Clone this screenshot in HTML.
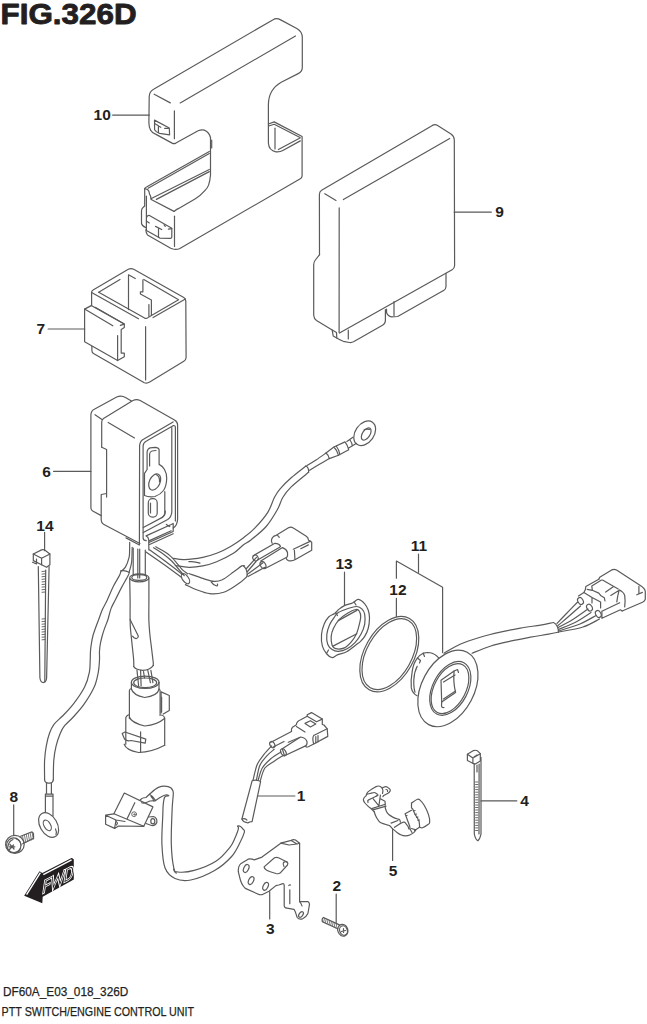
<!DOCTYPE html>
<html><head><meta charset="utf-8"><style>
html,body{margin:0;padding:0;background:#fff;}
body{width:647px;height:1024px;overflow:hidden;position:relative;font-family:"Liberation Sans",sans-serif;}
svg{position:absolute;left:0;top:0;}
.t{position:absolute;color:#231f20;white-space:nowrap;}
.n{font-weight:bold;font-size:14px;position:absolute;color:#231f20;line-height:1;}
</style></head><body>
<svg width="647" height="1024" viewBox="0 0 647 1024" fill="none" stroke="#5a5a5a" stroke-width="1.2" stroke-linecap="round" stroke-linejoin="round">
<!-- PART10 -->
<g id="p10">
<path d="M150.5,130 Q149,127 148.9,123 L149.2,97 Q149.3,91.5 153.6,89.3 L272.7,19.9 Q276.4,17.6 280.2,19.6 L296.8,28.5 Q302.3,31.6 302.3,37.5 L302.3,67.5 Q302.2,71.8 298.2,73.6 L281.2,82.3 Q268.6,89.5 268.4,104.5 L268.4,143 Q268.8,150.5 276,151.8 Q280,152.2 283.3,150.2 L300.3,140.9"/>
<path d="M150.5,130 Q152,133 156,134.4 L172.1,143.1 Q174,144 175.9,143.1 L198.1,130.7 Q201,129.6 204.3,130.1 Q208.8,131.8 210.5,137.5 L210.5,175 Q209.5,187 205.1,190.3 Q200,196 195.4,198.7 L178.7,208.4 Q176.5,209.6 174,211.4"/>
<path d="M211.7,140 L211.7,148"/>
<path d="M154.2,94.2 L170.3,102.9"/>
<path d="M180.2,102.9 L295.5,36"/>
<path d="M174.4,110.9 L174.4,138.7"/>
<path d="M154.5,120.1 L169.3,128 L169.6,134.9 L159.6,133.3 Q156,132.3 154.6,129.8 Z"/>
<path d="M155,123.8 L158.4,125.7 L158.4,132.6 M158.4,126 L160.8,127.3 M164.7,128.4 L168.4,128.4"/>
<path d="M268.4,124 L274.2,121.9 L302.1,136.5 L302.1,175.7 Q302,178 300.3,178.8 L179.4,248.7 Q176.1,250 173,249 L170.7,248.2 L147.5,235 Q146,233 145.8,229.8"/>
<path d="M268.7,126 L274.2,124.3 L300,137.5"/>
<path d="M275,128.2 L275,149"/>
<path d="M300,138 L278.4,149.5"/>
<path d="M144.7,188.7 L144.7,206 L143,207.5 Q141.5,208.7 141.5,211 L141.5,223.3 Q142,226 145.8,227.6"/>
<path d="M146.4,196.2 L146.4,229.8"/>
<path d="M144.7,188.7 Q145,187.6 146.5,187 L209.3,151.4"/>
<path d="M144.7,188.7 L147.5,189.5 Q149.5,191 149.5,194 L150.5,196 L151.2,199"/>
<path d="M148.1,188.3 L209.3,153.5"/>
<path d="M151.2,199.5 L174,211.4"/>
<path d="M150.9,198.7 L209.3,169.5"/>
<path d="M156.4,199.4 L209.3,171.6"/>
<path d="M174.5,216.2 L174.5,246.5"/>
<path d="M146.5,217.5 Q147,215.2 149,215.3 L171.8,228.2 L171.8,237.2 Q171.5,238.5 170.3,238.4 L159.8,238.1 L158.5,237.2 L146.5,230.4"/>
<path d="M158.5,228.5 L158.5,237.2 M155.5,226.4 L161.7,229.5 M146.3,221.1 L149.3,222.9 M168.4,229.2 L171.8,228.6 M164.1,224.8 L165.3,226.3"/>
</g>
<!-- PART9 -->
<g id="p9">
<path d="M319.5,254.7 L319.4,194.5 Q319.4,191.6 321.6,190.3 L432.4,125.4 Q435,124 437.6,125.5 L451,134 Q454.2,136.2 454.3,140 L454.6,265.5 Q454.5,268.6 452.1,269.8 L339.5,333"/>
<path d="M319.6,254.7 L315,260.5 Q313.7,262.2 313.7,265 L313.7,315.3 Q314,319 316.5,320.6 L332.2,330.1 L333.2,336 L338.5,339 Q341,340.5 343.3,341.3 L349.5,342.5 Q351.5,342.8 353.5,341.8 L382.5,325.3 Q385.4,323.5 385.4,320.5 L385.4,309.5"/>
<path d="M332.2,330.1 L336.5,332.5 L336.8,338"/>
<path d="M348.3,330 L348.3,339"/>
<path d="M386.5,309 L386.6,312.8 Q388,316.5 391.5,316.8 L397.7,316.5 L443.5,290.6 Q446,289.3 446,286.5 L446,273.3"/>
<path d="M394,301.7 L394,315.5"/>
<path d="M324.8,193.7 L336,200.4"/>
<path d="M343.4,199.6 L449.7,138.5"/>
<path d="M339.2,207.8 L339.1,332.6"/>
</g>
<!-- PART7 -->
<g id="p7">
<path d="M91.6,346 L91.6,292 Q91.8,290.8 93.5,289.8 L128.3,269.3 Q131,267.8 133.7,269.2 L183.8,297.6 Q185.6,298.8 185.8,301 L186.1,357.5 Q186,360 183.8,361.3 L149.7,382.1 Q147,383.8 144.3,382.7 L93.5,353.5 Q91.9,352.5 91.9,350.5 L91.9,346"/>
<path d="M91.6,292.5 L138.5,318.8"/>
<path d="M98.7,292.3 L120,279.5"/>
<path d="M98.7,292.3 L144.6,318.1 Q146.5,318.8 148,317.6 L178.6,299.8 L143.8,279.5"/>
<path d="M153.1,317.6 L185.4,299"/>
<path d="M145.6,326.7 L145.6,380"/>
<path d="M128.5,274.8 L128.5,309.6 M128.5,274.8 L135.3,278.5"/>
<path d="M142.9,279.9 L142.9,291.8 L140.4,291.8 L140.4,294 L151.4,300 L151.4,314.7 M148.9,304.5 L148.9,316"/>
<path fill="#fff" d="M84.6,309.1 L91.2,305.6 L124.3,324.1 L124.3,327.6 L121.2,329.4 L121.2,353.1 L124.3,353.1 L124.3,356.7 L117.6,360.6 L84.6,341.7 Z"/>
<path d="M84.6,309.1 L112.8,325.8 M95.2,307.3 L124.3,324.1 M120.3,325.4 L124.3,324.1 M117.6,335.5 L117.6,360.6"/>
</g>
<!-- PART6 -->
<g id="p6">
<path d="M101.2,515.6 L92.7,511 Q90.9,510 90.9,507.5 L90.9,415 Q91,410.8 94.3,409.3 L116.7,397 Q121.2,394.8 125.5,397.6 L131.4,401.1"/>
<path d="M95,414.7 L102,419.4"/>
<path d="M101.7,447.2 L101.7,422 Q101.9,419.5 103.5,418.4 L132.9,400.5 Q136.6,398.6 140.2,400.6 L174.5,420 Q177.6,421.8 177.6,425 L177.6,519 Q177.3,524.5 174.5,527 L173.2,528"/>
<path d="M101.7,447.2 L106.6,449.5 L106.6,497.1 M106.6,493.5 L101.2,494.5 L101.2,520 Q101.4,523.3 103.5,524.3 L139.9,543.5"/>
<path d="M108.2,422.5 L134.5,437.9"/>
<path d="M126,537.9 L139.4,545"/>
<path d="M139.4,544.5 L139.6,445.4 Q140.2,440.6 143.9,439 L173.1,421.9"/>
<path d="M146.3,540.7 Q143.3,540.6 143.1,538 L143.1,446 Q143.3,442.4 146.5,441 L173.1,425.7 Q175.3,425.2 175.4,427.5 L175.4,521"/>
<path d="M171.8,427.6 L171.8,512 Q171.5,517 167.7,519.5 L143.3,532.5 M143.3,527.5 L162.8,517.1 Q165.5,515 165.3,511"/>
<path d="M147.1,469.5 L147.1,451.7 Q147.8,448.5 150.2,447.9 L155.3,447.3 Q158.3,447.3 159.1,449.5 L159.1,464.4 Q162.5,466 164.5,469.5 Q167,474 166.7,478.4 Q166.5,486 163.5,490.5 Q160.5,494.5 155,496.5 Q149,497.5 144.5,495.5 L144.5,473.3 L147.1,469.5"/>
<path d="M149.6,466 L149.6,454 Q150,451.5 152,451 L156,450.5"/>
<ellipse cx="154.7" cy="482" rx="5.3" ry="8.6" transform="rotate(25 154.7 482)"/>
<path d="M156,474.5 Q160,476 159.5,482" />
<rect x="148.3" y="498.7" width="8.9" height="18.4" rx="4"/>
<path d="M150.5,503 L150.5,513"/>
<path d="M164.8,491.7 L164.8,513.9 Q164.5,516 162,517.5"/>
<path d="M146.1,535.9 L171.2,524.5 L173.2,523.5 L173.2,531.5 L149.5,542.3 M148.9,540.9 L171.2,530.8 M149.6,544.5 L173.2,533.8 M146.1,535.9 Q148.5,537 148.7,540 L148.9,550 M166.3,524.4 L169.8,526.5"/>
</g>
<!-- HARNESS -->
<g id="harn"><path d="M173.4,558.4 C175.2,558.6 179.6,559.8 184.5,559.6 C189.4,559.4 197.4,558.3 202.8,557.3 C208.2,556.2 212.1,555.1 216.7,553.3 C221.3,551.5 226.1,549.0 230.6,546.4 C235.1,543.8 239.8,540.5 243.9,537.4 C248.0,534.3 251.1,532.0 255.0,527.9 C258.9,523.8 264.4,517.7 267.6,512.6 C270.9,507.5 272.4,501.2 274.5,497.3 C276.6,493.4 277.3,492.1 280.1,488.9 C282.9,485.6 286.9,481.6 291.2,477.8 C295.5,474.0 303.4,468.0 305.8,466.0"/>
<path d="M175.2,565.5 C177.5,565.8 184.3,567.2 188.9,567.3 C193.5,567.4 198.2,566.8 202.8,565.9 C207.4,565.0 211.6,563.8 216.7,561.7 C221.8,559.6 229.0,556.1 233.4,553.3 C237.8,550.5 240.3,547.2 243.2,545.0 C246.1,542.8 247.1,543.1 250.9,540.0 C254.7,536.9 261.8,531.5 266.2,526.5 C270.6,521.5 274.5,514.7 277.3,509.8 C280.1,504.9 280.6,501.1 282.9,497.3 C285.2,493.5 286.9,491.1 291.2,486.9 C295.5,482.7 305.7,474.7 308.6,472.3"/>
<path d="M305.8,466 Q309,467.5 308.6,472.3"/>
<path d="M188.9,561.7 Q194,561 200,563.1"/>
<path d="M307.0,465.6 C308.5,464.7 312.8,462.1 316.0,460.0 C319.2,457.9 324.3,454.2 326.0,453.0"/>
<path d="M309.5,470.3 C311.1,469.3 315.7,466.4 319.0,464.5 C322.3,462.6 327.6,459.6 329.3,458.6"/>
<path d="M326,453 L333.9,447 L345,441.9 M329.3,458.6 L338.5,455.3 L348.7,449.8 M326,453 Q328.5,455 329.3,458.6 M333.9,447 Q337,450 338.5,455.3 M336.2,446 Q339,449.5 339.9,454.6 M345,441.9 Q347.5,445 348.7,449.8 M346.9,441.6 L352.9,437.3 M348.7,447.9 L356.6,443.3 M350,440 Q352,442.5 352.3,446"/>
<ellipse cx="364.7" cy="433.3" rx="9.4" ry="13.5" transform="rotate(35 364.7 433.3)"/>
<ellipse cx="366.2" cy="434" rx="3.7" ry="6.8" transform="rotate(34 366.2 434)"/>
<path d="M364,430 Q366,428.5 369.5,429.5"/>
<path d="M146.0,551.9 C149.0,554.0 158.1,560.4 164.0,564.6 C169.9,568.9 178.8,575.3 181.7,577.4"/>
<path d="M149.4,549.8 C152.0,551.7 159.5,556.9 165.0,561.0 C170.5,565.1 179.6,572.2 182.5,574.5"/>
<path d="M153.6,547.7 C154.6,548.3 157.6,550.2 159.6,551.5 C161.6,552.8 163.7,554.3 165.5,555.7 C167.3,557.1 168.9,558.4 170.6,560.0 C172.3,561.6 174.1,563.7 175.7,565.5 C177.3,567.3 178.6,568.9 180.0,570.6 C181.4,572.3 183.5,574.7 184.2,575.5"/>
<path d="M155.7,546.8 C156.8,547.4 160.0,549.0 162.1,550.2 C164.2,551.4 166.3,552.7 168.0,554.0 C169.7,555.3 170.7,556.3 172.3,557.9 C173.9,559.5 175.7,561.8 177.4,563.8 C179.1,565.8 180.8,568.1 182.5,569.8 C184.2,571.5 186.8,573.1 187.6,573.8"/>
<ellipse cx="185.5" cy="578.7" rx="3" ry="5.8" transform="rotate(-35 185.5 578.7)"/>
<path d="M188.9,573.5 C191.2,574.3 198.6,577.1 202.8,578.4 C207.0,579.7 210.8,581.2 214.0,581.4 C217.2,581.6 219.1,581.3 222.3,579.8 C225.5,578.2 230.2,574.4 233.4,572.1 C236.7,569.8 239.9,566.9 241.8,565.9 C243.7,564.9 244.1,565.9 244.6,565.9"/>
<path d="M185.4,584.6 C187.2,585.4 191.8,588.0 195.9,589.5 C200.0,591.0 205.2,593.2 209.8,593.7 C214.4,594.2 219.3,593.7 223.7,592.3 C228.1,590.9 232.5,587.7 236.2,585.3 C239.9,582.9 244.1,579.6 245.9,577.7 C247.8,575.9 247.1,574.8 247.3,574.2"/>
<path d="M243.5,565.9 Q247,568.5 247.3,574.9"/>
<path d="M211.2,581.9 Q213,585 216.7,586 Q218,585.5 217.4,584"/>
<path d="M246.5,568.5 L256.5,557.3 M247.5,571.5 L256,561.5 M248.5,573.5 L263,562.7 M248,576.5 L264.5,567.5"/>
<path d="M272.2,543.3 Q270.5,540 272.7,537.3 Q274,535.8 275.4,535.7 L288.9,527.6 Q291.1,526.6 293.3,528.1 L306.3,536.2 Q308.4,537.5 308.4,540 L311.7,542.2 L311.7,550.3 L295.4,559.5 Q292,561.5 288.4,560.6 Q286.5,559.8 286.2,558.4"/>
<path d="M293.3,549.2 L310.6,541.1 M294.4,550.3 L294.9,559 M300.8,548.7 L308.4,544.9 M277,535.5 Q279,536 279.2,537.3"/>
<path d="M253.2,555.7 L274.9,543.3 Q279.5,543.5 280.5,546.5 L279.2,547.6 M257.6,560 L279.2,547.6"/>
<ellipse cx="255.5" cy="558" rx="2.6" ry="3" transform="rotate(-30 255.5 558)"/>
<path d="M260.8,561.1 L282.5,547.6 Q286.5,549 287.5,552.5 Q288,556 286.8,557.3 L264.6,568.7"/>
<ellipse cx="263" cy="565" rx="2.6" ry="3.6" transform="rotate(-30 263 565)"/>
<path d="M133.2,548 L133.2,575.5 M137.8,549 L137.8,578 M139.7,549 L139.7,578 M145.3,550 L145.3,575.5"/>
<path d="M129.7,542.4 C129.7,543.7 129.7,547.5 129.6,550.0 C129.5,552.5 129.8,554.4 129.1,557.3 C128.4,560.1 126.7,564.8 125.4,567.1 C124.1,569.4 122.2,570.3 121.5,570.9"/>
<path d="M132.2,547.4 C132.1,549.9 132.1,558.1 131.6,562.2 C131.1,566.3 129.5,570.5 129.1,572.1"/>
<path d="M120.9,570.9 Q125,570 129.1,572.3"/>
<ellipse cx="139.3" cy="577.8" rx="9.6" ry="4"/>
<ellipse cx="139.3" cy="577.5" rx="7.5" ry="2.8"/>
<path d="M129.7,578.5 C129.8,582.1 130.0,593.5 130.1,600.0 C130.2,606.5 130.0,612.8 130.1,617.4 C130.2,622.0 130.1,623.8 130.4,627.8 C130.7,631.8 131.3,636.5 131.8,641.7 C132.3,646.9 133.3,655.1 133.6,659.1 C133.9,663.1 133.8,664.9 133.8,666.0"/>
<path d="M148.9,578.0 C148.9,581.7 148.9,592.9 148.9,600.0 C148.9,607.1 148.7,615.1 148.9,620.9 C149.1,626.7 149.5,630.2 149.9,634.8 C150.3,639.4 151.1,644.2 151.6,648.7 C152.1,653.2 152.9,659.2 153.2,662.0 C153.5,664.8 153.2,664.8 153.2,665.3"/>
<path d="M133.5,666.3 Q135,669.6 142.7,670.4 Q150,670 153.4,665.3"/>
<path d="M130.1,619.5 L138.4,636.2 Q137.8,638.8 136,638.6 Q133.8,638.2 132.5,636.2"/>
<path d="M137,670.4 L138.6,685.8 M140.6,670.4 L141.1,685.8 M147.8,670.4 L150.4,682.7 M150.9,670.4 L152.9,682.7 M143.5,671.5 L144.5,678"/>
<ellipse cx="145.2" cy="682.3" rx="13.8" ry="6.2"/>
<ellipse cx="145.2" cy="682.8" rx="11.5" ry="4.8"/>
<path d="M131.4,682.3 L131.4,689.5 M159,682.3 L159,689.5"/>
<path d="M131.4,689 Q133,695 144.7,697.5 Q157,696 159.1,689.5"/>
<path d="M129.4,690.5 L129.4,718.6 M160.1,690.5 L160.1,715.5 M129.4,690.5 Q129.5,689 131.4,688.5 M160.1,690.5 Q159.9,689.5 159,689"/>
<path d="M161.1,691.9 L169.3,695.5 L169.3,710.4 L163.2,714 M161.1,691.9 L161.1,713 M161.6,697 L161.6,712"/>
<path d="M129.4,717 Q131,722.5 144.7,726 Q157,725 164.5,718.5"/>
<path d="M125.8,744.2 L125.8,717.5 Q127,715 129.4,714.5 M164.7,745.2 L164.7,718 Q164,715.5 161.5,715"/>
<path d="M124.2,744.2 Q126,750 138.6,752.5 Q152,752 164.7,745.2"/>
<path d="M140.6,731.9 L140.6,752.5"/>
<path d="M122.2,733.5 L125,732 L145.8,739.1 L145.2,743.2 L131,740.5 Q127,741.5 124.5,739 L122.2,733.5 Z"/>
<path d="M120.9,570.9 C120.7,571.6 120.9,572.5 119.7,575.0 C118.5,577.5 115.5,582.0 113.5,586.1 C111.5,590.2 109.2,595.8 107.4,599.7 C105.6,603.6 103.9,606.2 102.4,609.6 C100.9,613.0 99.7,616.9 98.5,620.0 C97.3,623.1 96.4,625.4 95.5,628.0 C94.6,630.6 93.7,632.9 93.0,635.5 C92.3,638.1 91.8,640.9 91.4,643.5 C91.0,646.1 90.7,648.2 90.5,651.0 C90.3,653.8 90.4,656.5 90.2,660.0 C90.0,663.5 90.3,667.6 89.4,672.1 C88.5,676.6 87.3,681.7 84.6,687.0 C81.9,692.3 77.0,699.3 73.3,704.1 C69.6,708.9 65.8,712.6 62.5,716.0 C59.2,719.4 56.0,721.7 53.8,724.6 C51.6,727.5 50.8,729.7 49.5,733.3 C48.2,736.9 47.0,741.8 46.2,746.3 C45.4,750.8 44.9,754.7 44.6,760.3 C44.3,765.9 44.6,776.5 44.6,779.8"/>
<path d="M129.1,572.3 C129.0,572.8 129.7,572.5 128.4,575.0 C127.2,577.5 123.8,583.3 121.6,587.4 C119.4,591.5 117.2,596.2 115.4,599.7 C113.7,603.2 112.4,605.0 111.1,608.4 C109.8,611.8 108.9,616.7 107.8,620.0 C106.7,623.3 105.6,625.4 104.7,628.0 C103.8,630.6 103.0,632.9 102.3,635.5 C101.6,638.1 100.9,640.9 100.4,643.5 C99.9,646.1 99.7,648.2 99.5,651.0 C99.3,653.8 99.7,656.5 99.5,660.0 C99.3,663.5 99.2,667.6 98.3,672.1 C97.4,676.6 96.6,681.7 94.2,687.0 C91.8,692.3 87.6,699.1 84.1,704.1 C80.6,709.1 76.5,713.4 73.3,717.0 C70.0,720.6 66.8,723.0 64.6,725.7 C62.4,728.4 61.7,729.9 60.3,733.3 C58.9,736.7 57.1,741.8 56.0,746.3 C54.9,750.8 54.2,754.7 53.8,760.3 C53.3,765.9 53.4,776.5 53.3,779.8"/>
<path d="M44.6,779.8 Q44.8,783 48.4,783.2 L50,783.2 Q53,783 53.3,779.8"/>
<path d="M46.5,783.2 L46.5,794.1 M51.4,783.2 L51.4,794.1 M45.4,794.1 L53,794.1 M45.4,796.2 L53,796.2 M45.4,794.1 L45.4,816 M53,794.1 L53,816"/>
<ellipse fill="#fff" cx="48.6" cy="825" rx="8.6" ry="13.4" transform="rotate(-30 48.6 825)"/>
<ellipse cx="47.3" cy="825.4" rx="3.2" ry="5.8" transform="rotate(-30 47.3 825.4)"/>
<path d="M55.5,829 Q57,832 56,834.5"/></g>
<!-- PART14 -->
<g id="p14"><path d="M33.3,554 L41.6,549.9 Q43.5,549.3 45.7,550.7 L49.9,554 L49.9,564.8 L46.6,567.3 L41.6,564.8 L33.3,560.6 Z"/>
<path d="M33.3,554 L41.6,558.2 L49.9,554 M41.6,558.2 L41.6,564.8 M32.5,562.3 L36.5,564 L36.5,559"/>
<path d="M38.3,566.5 L39.9,677.7 Q40.5,682.6 43.3,682.6 Q46.4,682 46.6,677.7 L49.1,566.5"/>
<path d="M45.7,570 L44.8,682"/>
<path stroke-width="0.9" d="M42,571.5 L45.2,571.2 M42,574.1 L45.2,573.8 M42,576.7 L45.2,576.4 M42,579.3 L45.2,579.0 M42,581.9 L45.2,581.6 M42,584.5 L45.2,584.2 M42,587.1 L45.2,586.8 M42,589.7 L45.2,589.4 M42,592.3 L45.2,592.0 M42,619.0 L45.2,618.7 M42,621.6 L45.2,621.3 M42,624.2 L45.2,623.9 M42,626.8 L45.2,626.5 M42,629.4 L45.2,629.1 M42,632.0 L45.2,631.7 M42,634.6 L45.2,634.3 M42,637.2 L45.2,636.9 M42,639.8 L45.2,639.5"/></g>
<!-- PART8 -->
<g id="p8"><ellipse cx="14.9" cy="844.4" rx="9.3" ry="9" />
<ellipse cx="13.8" cy="845.3" rx="7.2" ry="7.4" />
<path d="M8,846 Q9,841 13,839.5 M16,838.8 Q20.5,840.5 21,845 M20.5,848.5 Q19,852 15.5,852.5 M11,852.5 Q7.5,850.5 7.2,847"/>
<path d="M9.5,849.5 L13.5,845 M10,844.5 L14,849 M8.8,846.8 L14.8,846.8"/>
<path d="M20.6,836.3 L31.4,832 Q33.3,832 33.5,834.1 L33.6,838.4 L22.7,843.8"/>
<path stroke-width="0.8" d="M22.5,835.6 L23.8,843.0 M24.4,834.8 L25.7,842.2 M26.3,834.1 L27.6,841.5 M28.2,833.3 L29.5,840.7 M30.1,832.6 L31.4,840.0 M32.0,831.8 L33.3,839.2"/></g>
<!-- FWD -->
<g id="fwd"><path fill="#231f20" stroke="none" d="M24.2,895.8 L39.5,871.2 L42.3,873.1 L71,858.2 Q72.5,857.6 73.8,859.6 L73.8,879.6 L42.7,896.7 L42.3,903.2 Z"/>
<path stroke="#fff" stroke-width="1.4" stroke-linecap="butt" d="M26.6,894.6 L40.4,872.6 M43.3,874.6 L71.6,859.9"/>
<g transform="translate(42.2,894.6) skewY(-27.8) skewX(-9)" stroke-linejoin="miter" stroke-linecap="square"><path stroke="#fff" stroke-width="2.7" d="M1.3,-1.2 L1.3,-12.3 L6.9,-12.3 M1.3,-6.9 L5.9,-6.9 M8.4,-12.3 L10.9,-1.2 L14.3,-10.2 L17.7,-1.2 L20.3,-12.3 M22.5,-1.2 L22.5,-12.3 L25.2,-12.3 Q29.1,-12.3 29.1,-6.75 Q29.1,-1.2 25.2,-1.2 Z"/><path stroke="#231f20" stroke-width="0.9" d="M1.3,-1.2 L1.3,-12.3 L6.9,-12.3 M1.3,-6.9 L5.9,-6.9 M8.4,-12.3 L10.9,-1.2 L14.3,-10.2 L17.7,-1.2 L20.3,-12.3 M22.5,-1.2 L22.5,-12.3 L25.2,-12.3 Q29.1,-12.3 29.1,-6.75 Q29.1,-1.2 25.2,-1.2 Z"/></g></g>
<!-- PART1 -->
<g id="p1"><path d="M124.3,793 L152.9,806.9 L143.8,826.3 L113.9,813.8 Z"/>
<path d="M134.8,802.7 L127.1,818.7"/>
<circle cx="134.1" cy="814.2" r="2.4" stroke-width="0.9"/><circle cx="134.4" cy="814.4" r="0.7" stroke-width="0.8"/>
<path d="M113.9,813.8 L105.6,815.2 L105.6,824.2 L114.6,828.4 L118.5,826 L143.8,826.3 M105.6,815.2 L116,820 L114.6,828.4 M116,820 L125,821.5 M115.5,820.5 L117.5,823 L116.5,825"/>
<path d="M148.5,817 L153.5,816.5 Q157.5,818 156.8,822.5 Q155.5,826 151.5,825.5 L146,823.5"/>
<ellipse cx="152.8" cy="821.3" rx="2" ry="2.6"/>
<path d="M140.3,799.9 Q142,797.5 146,797.5 L149.4,794.3 M141.7,802.7 Q144,804 150,801 L155.6,800.6 M149.4,794.3 Q153,796 155.6,800.6 M151,796.5 Q153.5,798.5 154,801.5"/>
<path d="M155.6,800.6 C156.3,800.1 158.4,798.4 160.0,797.5 C161.6,796.6 163.9,795.3 165.4,795.0 C166.9,794.7 169.0,795.4 168.9,795.7 C168.8,796.1 165.6,795.6 164.7,797.1 C163.8,798.6 163.5,802.0 163.2,805.0 C162.9,808.0 163.0,808.5 162.8,815.0 C162.6,821.5 161.5,835.2 161.9,844.0 C162.3,852.8 162.8,862.0 165.0,867.8 C167.2,873.5 170.7,876.5 175.0,878.5 C179.3,880.5 184.2,881.3 190.8,880.0 C197.4,878.7 207.8,874.4 214.6,870.5 C221.4,866.6 227.4,861.2 231.6,856.5 C235.8,851.8 237.9,846.6 240.0,842.5 C242.1,838.4 243.8,834.2 244.4,832.1 C245.0,830.0 243.7,830.0 243.5,829.6"/>
<path d="M149.4,794.3 C150.9,793.1 155.3,788.7 158.4,787.4 C161.5,786.1 165.8,786.1 168.2,786.7 C170.6,787.3 172.2,789.0 173.0,790.9 C173.8,792.8 173.2,794.6 173.0,797.8 C172.8,801.0 172.4,802.3 172.1,810.0 C171.8,817.7 171.0,834.4 171.3,844.0 C171.6,853.6 172.7,863.1 173.8,867.8 C174.9,872.5 174.6,871.6 178.0,872.0 C181.4,872.4 187.8,872.2 194.2,870.4 C200.6,868.6 210.4,864.8 216.3,861.0 C222.2,857.2 226.8,851.2 229.9,847.4 C233.0,843.6 233.6,841.1 235.0,838.0 C236.4,834.9 238.0,830.7 238.4,828.7 C238.8,826.7 237.7,826.6 237.6,826.2"/>
<path d="M237.6,826.2 Q240,825 243.5,829.6 M173.5,869 Q175,873.5 176.5,873"/>
<path d="M252.1,780.8 L241.9,819 Q243,822 246,822.3 Q248,823.5 249.5,822 L252.1,821.6 L260.6,781.6 Q256,779 252.1,780.8 Z"/>
<path d="M241.9,819 Q244.5,818 246.9,820"/>
<path d="M253.0,780.2 C253.7,777.6 255.4,768.9 257.2,764.6 C259.0,760.3 261.6,757.5 264.0,754.4 C266.4,751.3 270.4,747.3 271.7,745.9"/>
<path d="M256.4,780.2 C257.0,777.8 258.1,769.5 259.8,765.5 C261.5,761.5 264.2,758.8 266.6,756.1 C269.0,753.4 272.9,750.4 274.2,749.3"/>
<path d="M258.1,780.4 C258.8,778.3 260.2,771.6 262.3,768.0 C264.4,764.4 267.7,761.4 270.8,758.7 C273.9,756.0 279.3,753.0 281.0,751.9"/>
<path d="M260.3,780.6 C261.1,778.5 262.6,771.2 264.9,768.0 C267.2,764.8 271.1,763.3 274.2,761.2 C277.3,759.1 282.0,756.3 283.6,755.3"/>
<path d="M271,742.3 L291.5,731.5 M273.3,747 L284,741.5"/>
<ellipse cx="272.3" cy="744.6" rx="2.3" ry="3.3" transform="rotate(-30 272.3 744.6)"/>
<path fill="#fff" d="M282.3,748.8 L300.5,737 Q305.5,737.5 307,741.5 Q307.3,745.5 305,746.1 L284.5,755.8 Z"/>
<ellipse cx="283.4" cy="752.3" rx="2.4" ry="3.8" transform="rotate(-30 283.4 752.3)"/>
<path d="M288.3,742.3 L299.6,737.5"/>
<path d="M291.5,731.5 Q291,728.5 292.5,727.2 L296.4,724.8 Q296.5,721.5 300.7,719.8 L307.2,716.2 L307.2,714.7 L311.5,712.6 L322.3,719.1 L322.3,724.5 L324,725 L327.2,728.8 L327.8,736.4 L313.7,744 L308.3,746.7 Q306,747.5 305.5,746.3"/>
<path d="M305,723.4 L310.4,720.7 L315.8,723.9 L310.4,726.9 Z"/>
<path d="M313.7,735.5 L327.2,728.8 M315.8,736.5 L315.8,743 M318,735.5 L318,742 M307.2,716.2 L316.5,721.8 L322.3,719.1 M296.4,726.6 L305,732 M313.7,735.5 Q312,738 313.7,744"/>
</g>
<!-- PART3 -->
<g id="p3"><path d="M280.8,843.2 L291.2,840.4 Q293.5,839.2 295.5,840 L299.6,843.2 L299.6,901.6 L307.9,901.6 Q310,903 309.3,905.5 L307.9,913.5 Q306,917.5 302.3,919 Q299,919.8 297.2,917.5 L295.4,912.1 L294,909.3 L285.6,907.9 Q284,907 284.2,905.1 L284.2,885.6 Q284,883.4 282.9,883.6 L278.7,885 L275.9,885.6 L269,891.2 L262,894.7 Q259.5,895 257.8,894 L245.3,888.4 Q241,884 239.7,877.3 L238.3,871.7 Q238,866 241.1,863.4 L248.1,859.2 Q251,858.5 254.3,859.9 L262,857.1 Z"/>
<ellipse cx="246.2" cy="868.5" rx="2.4" ry="4.2" transform="rotate(25 246.2 868.5)"/>
<ellipse cx="251.1" cy="880.6" rx="2.4" ry="4.2" transform="rotate(25 251.1 880.6)"/>
<ellipse cx="265.6" cy="886.3" rx="2.4" ry="4.2" transform="rotate(25 265.6 886.3)"/>
<path d="M264.1,866.9 L274.5,857.8 Q276.5,857 278.5,857.8 L287,862 Q288.5,863.5 287.5,865 L280.1,873.1 Q278.5,874.2 276,873.5 L270.3,871.7 Q264.5,870 264.1,866.9 Z"/>
<path d="M283.5,862.5 Q285.5,861 287,862 M284,866.5 Q282.5,864 283.5,862.5"/>
<path d="M289.8,889.8 L289.8,903.7 M290.5,885 Q289.5,884.5 288.8,885.5"/>
<ellipse cx="301" cy="914.5" rx="1.8" ry="3.2" transform="rotate(35 301 914.5)"/>
<path d="M291.2,840.4 L297,844 L299.6,843.2 M280.8,843.2 L289,845 L297,844"/>
<path d="M299.6,901.6 Q301.5,903.5 302,906"/></g>
<!-- PART2 -->
<g id="p2"><ellipse cx="342.8" cy="930.2" rx="5" ry="6" transform="rotate(-20 342.8 930.2)"/>
<ellipse cx="343.5" cy="930.5" rx="3.8" ry="4.8" transform="rotate(-20 343.5 930.5)"/>
<path d="M341.5,931.5 L345.5,930.5 M343.5,928.5 L343.5,932.5"/>
<path d="M323.5,917.5 L339.4,924.9 M322.4,921.8 L337.8,928.7 M323.5,917.5 Q321.5,918.5 322.4,921.8"/>
<path stroke-width="0.8" d="M324.5,918.2 L323.6,922.4 M326.2,919.0 L325.4,923.2 M328.0,919.8 L327.1,924.0 M329.8,920.7 L328.9,924.9 M331.5,921.5 L330.6,925.7 M333.2,922.3 L332.4,926.5 M335.0,923.1 L334.1,927.3 M336.8,923.9 L335.9,928.1"/></g>
<!-- PART5 -->
<g id="p5"><path d="M374.2,811.7 C373.8,811.3 372.7,810.1 371.7,809.2 C370.7,808.3 369.1,807.1 368.0,806.1 C366.9,805.1 365.7,804.0 364.9,803.0 C364.1,802.0 363.5,800.8 363.4,799.9 C363.3,799.0 363.8,798.2 364.3,797.5 C364.8,796.8 365.8,796.1 366.2,795.6 C366.6,795.1 366.2,795.0 366.5,794.4 C366.8,793.8 367.0,792.8 368.0,791.9 C369.0,791.0 371.0,789.7 372.4,788.8 C373.8,787.9 375.1,787.1 376.1,786.6 C377.1,786.1 377.7,786.0 378.5,786.0 C379.3,786.0 380.4,786.5 381.0,786.9 C381.6,787.3 382.1,788.0 382.3,788.2"/>
<path d="M382.3,788.2 C382.5,788.1 382.9,787.6 383.5,787.3 C384.1,787.0 385.2,786.5 386.0,786.6 C386.8,786.7 387.7,787.3 388.4,787.9 C389.1,788.5 390.2,789.2 390.3,790.0 C390.4,790.8 390.0,791.6 389.0,792.5 C388.0,793.4 385.1,794.6 384.1,795.3 C383.1,796.0 383.1,796.3 382.9,796.5"/>
<path d="M366.5,794.4 C367.1,794.2 368.7,793.8 370.0,793.5 C371.3,793.2 373.1,792.5 374.2,792.5 C375.3,792.5 376.1,793.3 376.7,793.7 C377.3,794.1 378.0,794.6 378.0,795.0 C378.0,795.4 376.8,795.8 376.5,796.0"/>
<path d="M368.0,802.4 C368.0,802.1 367.7,800.9 367.8,800.5 C367.9,800.1 367.7,800.4 368.7,799.9 C369.7,799.4 372.2,798.2 373.6,797.5 C375.0,796.8 376.4,796.1 377.0,795.8"/>
<path d="M373,798.7 L378.9,805.8 L380.4,795 M380.4,798.7 L385,801.2 L385.3,804.9 M371.7,808.6 L385.3,804.3 M373,809.8 L386,806.1 M382.3,788.2 Q383.5,791 382.5,793.5 M386,789.5 Q388,789.5 387.5,791.5"/>
<path d="M374.2,811.7 C374.4,812.3 374.9,814.1 375.5,815.4 C376.1,816.7 377.1,818.6 377.9,819.7 C378.6,820.8 378.8,821.4 380.0,822.2 C381.2,823.0 383.5,823.7 385.1,824.3 C386.7,824.9 388.1,824.8 389.4,825.6 C390.7,826.4 391.5,827.9 392.8,829.0 C394.1,830.1 395.6,831.4 397.0,832.4 C398.4,833.4 399.9,834.4 401.3,835.0 C402.7,835.6 404.1,835.8 405.5,835.8 C406.9,835.8 408.4,835.6 409.8,835.0 C411.2,834.4 413.0,833.2 414.0,832.4 C415.0,831.5 415.4,830.3 415.7,829.9"/>
<path d="M385.3,806.7 C385.3,806.9 385.1,807.2 385.3,808.0 C385.5,808.8 386.0,810.6 386.6,811.7 C387.2,812.8 388.1,813.9 389.1,814.8 C390.1,815.7 391.5,816.4 392.8,817.1 C394.1,817.8 395.9,818.4 397.0,818.8 C398.1,819.2 399.0,819.1 399.6,819.7 C400.2,820.3 400.3,821.8 400.4,822.2"/>
<path d="M391.1,823.1 L397.9,820.5 M394.5,827.3 L399.6,823.9 L403,822.2 Q405,822 405.5,823.1 L408.1,826.5 L408.9,829"/>
<path d="M405.1,813.7 L411.5,810.3 M405.1,813.7 L409.8,826.5 L410,829 M406,816 L407,815.5"/>
<path d="M411.5,803.1 C412.5,802.5 416.0,799.8 417.4,799.3 C418.8,798.8 418.9,799.1 420.0,800.1 C421.1,801.1 422.8,802.8 424.2,805.2 C425.6,807.6 427.6,811.8 428.5,814.6 C429.4,817.4 429.8,820.5 429.7,822.2 C429.6,823.9 428.8,823.9 427.6,824.8 C426.4,825.7 423.8,827.3 422.5,827.7 C421.2,828.1 420.4,827.4 420.0,827.3"/>
<path d="M411.5,803.1 L411.5,807.8 L412.7,809 L414,812 L415.7,815.4 L417.4,818 L419.1,821.4 L419.5,824.8 L419.5,827.3 L414.5,830.5"/>
<path d="M413.5,811 L415,810.5 M415,814.5 L416.5,814 M416.5,817.5 L418,817 M418,820.5 L419.5,820"/>
<path d="M410,829 L412,832.5 M411.5,828.5 L415.7,829.9"/></g>
<!-- PART4 -->
<g id="p4"><path d="M467.4,754.3 L473.5,750.6 Q475.5,749.8 477.5,750.8 L480.3,753.7 L480.3,761.1 L474.8,764.2 L467.4,760.5 Z"/>
<path d="M467.4,754.3 L472.9,758 L480.3,753.7 M472.9,758 L472.9,763.5 M474,757 L477,755"/>
<path d="M474.2,763.5 L474.3,834 Q475.4,839.5 477.9,840.8 Q480,839 481,834 L481,757.4"/>
<path d="M479.1,764 L479,834 M477,765 L477,772"/>
<path stroke-width="0.9" d="M475.6,782.0 L477.8,782.0 M475.6,784.5 L477.8,784.5 M475.6,787.1 L477.8,787.1 M475.6,789.6 L477.8,789.6 M475.6,792.2 L477.8,792.2 M475.6,794.8 L477.8,794.8 M475.6,797.3 L477.8,797.3 M475.6,799.9 L477.8,799.9 M475.6,802.4 L477.8,802.4 M475.6,805.0 L477.8,805.0 M475.6,807.5 L477.8,807.5 M475.6,810.0 L477.8,810.0 M475.6,812.6 L477.8,812.6 M475.6,815.1 L477.8,815.1 M475.6,817.7 L477.8,817.7 M475.6,820.2 L477.8,820.2 M475.6,822.8 L477.8,822.8 M475.6,825.4 L477.8,825.4 M475.6,827.9 L477.8,827.9 M475.6,830.5 L477.8,830.5"/></g>
<!-- PART13 -->
<g id="p13"><path d="M344.4,605.6 C346.5,604.6 349.9,604.0 351.5,603.4 C353.1,602.8 352.9,602.7 354.1,602.0 C355.3,601.3 356.7,599.1 358.5,599.4 C360.3,599.7 363.1,602.0 364.7,603.8 C366.3,605.6 367.4,607.6 368.2,610.0 C369.0,612.4 369.5,614.8 369.5,617.9 C369.5,621.0 369.0,625.4 368.2,628.5 C367.4,631.6 366.0,634.2 364.7,636.4 C363.4,638.6 361.6,640.4 360.3,641.7 C359.0,643.0 359.0,642.7 356.8,644.3 C354.6,645.9 350.3,649.6 347.1,651.4 C343.9,653.2 339.9,653.9 337.4,654.9 C334.9,655.9 333.9,657.8 332.1,657.6 C330.3,657.5 328.4,655.9 326.8,654.0 C325.2,652.1 323.3,649.3 322.4,646.1 C321.5,642.9 321.2,638.3 321.5,634.6 C321.8,630.9 323.0,627.0 324.2,624.1 C325.4,621.2 326.9,618.8 328.6,617.0 C330.4,615.2 332.9,614.8 334.7,613.5 C336.4,612.2 337.5,610.4 339.1,609.1 C340.7,607.8 342.3,606.6 344.4,605.6Z"/>
<path d="M338.3,612.6 C340.8,611.0 345.7,609.2 348.8,608.2 C351.9,607.2 354.6,606.4 356.8,606.5 C359.0,606.6 360.8,607.8 362.1,609.1 C363.4,610.4 364.3,611.9 364.7,614.4 C365.1,616.9 365.3,620.9 364.7,624.1 C364.1,627.3 362.8,630.7 361.2,633.8 C359.6,636.9 357.4,640.1 355.0,642.6 C352.6,645.1 349.9,647.2 347.1,648.7 C344.3,650.2 340.8,651.2 338.3,651.4 C335.8,651.5 333.9,650.8 332.1,649.6 C330.3,648.4 328.6,646.8 327.7,644.3 C326.8,641.8 326.5,637.8 326.8,634.6 C327.1,631.4 328.3,627.8 329.5,625.0 C330.7,622.2 332.4,620.0 333.9,617.9 C335.4,615.8 335.8,614.2 338.3,612.6Z"/>
<path d="M339.1,619.7 C341.4,617.2 344.3,615.2 347.1,613.5 C349.9,611.8 353.8,609.9 355.9,609.5 C357.9,609.1 358.6,610.0 359.4,611.3 C360.2,612.5 360.7,614.9 360.7,617.0 C360.7,619.1 360.0,621.5 359.4,624.1 C358.8,626.8 358.1,630.0 356.8,632.9 C355.5,635.8 353.6,639.2 351.5,641.7 C349.4,644.2 347.0,646.7 344.4,647.9 C341.8,649.1 337.7,649.2 335.6,648.7 C333.6,648.2 332.8,647.2 332.1,645.2 C331.4,643.2 331.0,639.2 331.2,636.4 C331.4,633.6 332.1,631.3 333.4,628.5 C334.7,625.7 336.8,622.2 339.1,619.7Z"/>
<path d="M338.3,620.6 L356.8,610.4 M333,646.1 L356.8,633.8"/>
<path d="M354.1,602 L356,605 M335.5,612.8 L337.5,615.5 M326.5,653.5 L328.5,650"/></g>
<!-- PART12 -->
<g id="p12"><ellipse cx="389.3" cy="654.1" rx="24.7" ry="41" transform="rotate(29.5 389.3 654.1)"/>
<ellipse cx="389.3" cy="654.1" rx="22.5" ry="38.7" transform="rotate(29.5 389.3 654.1)"/></g>
<!-- PART11 -->
<g id="p11"><path d="M438.6,657.9 L437.1,656.3 Q433,652.5 427.8,652.5 L423.2,653.2 Q419.5,655 417.5,658 L417,658.6 Q413.5,663 412.3,670.6 Q410.6,680 411.3,687.9 Q412.5,693.5 417,695.7"/>
<path d="M417.2,666.3 Q414.2,672 413.8,680 Q413.6,688 415,692.2 M417.5,658 L420.5,660.5 L419.5,663 M423.2,653.2 L424.5,656.5"/>
<ellipse cx="447.9" cy="688.4" rx="26.2" ry="41" transform="rotate(28 447.9 688.4)"/>
<ellipse cx="450.3" cy="688.4" rx="17.5" ry="29" transform="rotate(28 450.3 688.4)"/>
<ellipse cx="450" cy="688.6" rx="15.8" ry="27" transform="rotate(28 450 688.6)"/>
<path d="M441,680.3 L454.1,671 Q453,682 455.6,692.6 L441.7,701.9 Z"/>
<path d="M454.1,671 L457.5,669.5 L458.5,672.5 M441.7,701.9 L441.5,706 Q442,708 444,707.5"/>
<path d="M443.5,682 L455,675 M443.5,699 L455.5,691"/>
<path d="M444.0,653.2 C446.7,651.7 454.1,646.9 460.1,644.2 C466.1,641.5 473.5,639.2 480.2,637.2 C486.9,635.2 493.6,633.6 500.3,632.1 C507.0,630.6 513.7,629.3 520.4,628.1 C527.1,626.9 535.0,626.0 540.5,625.1 C546.0,624.2 551.3,622.9 553.5,622.5"/>
<path d="M472.1,653.2 C475.1,652.0 483.8,648.2 490.2,646.2 C496.6,644.2 503.6,642.7 510.3,641.2 C517.0,639.7 524.0,638.4 530.4,637.2 C536.8,636.0 543.8,635.1 548.5,634.2 C553.2,633.4 556.8,632.5 558.5,632.1"/>
<path d="M553.5,622.5 Q558,624.5 558.5,632.1"/>
<path d="M557.0,623.5 C558.5,621.9 562.5,617.6 566.0,614.0 C569.5,610.4 575.8,604.0 577.7,602.0"/>
<path d="M558.0,625.5 C559.7,624.1 564.2,620.2 568.0,617.0 C571.8,613.8 578.4,607.8 580.5,606.0"/>
<path d="M558.3,627.5 C560.6,626.2 567.0,623.1 572.0,620.0 C577.0,616.9 585.3,610.8 588.0,609.0"/>
<path d="M558.5,629.5 C561.2,628.3 569.6,625.3 575.0,622.5 C580.4,619.7 588.3,614.2 591.0,612.5"/>
<path d="M558.5,631.0 C562.1,629.8 573.8,626.6 580.0,624.0 C586.2,621.4 593.3,616.9 596.0,615.5"/>
<path d="M558.5,632.0 C562.6,631.2 576.2,629.2 583.0,627.0 C589.8,624.8 596.8,620.3 599.5,619.0"/>
<ellipse cx="580.5" cy="601" rx="2.6" ry="3.6" transform="rotate(-30 580.5 601)"/>
<ellipse cx="589.5" cy="607.6" rx="2.6" ry="3.6" transform="rotate(-30 589.5 607.6)"/>
<ellipse cx="598.3" cy="614" rx="2.6" ry="3.6" transform="rotate(-30 598.3 614)"/>
<path d="M598.8,579.2 L599.7,577.3 L611.7,569.9 Q614.2,568.6 616.5,570 L640.3,585.6 Q644.8,588.5 645.3,591.3 L645.3,599.1 Q645,601 642.5,602.2 L622.2,611"/>
<path d="M598.8,579.2 L585.8,586.6 L585.3,589.8 L583.9,592.6 L578.5,596"/>
<path d="M601.5,580.1 L591.8,586.1 L592.3,589.8 M602.5,580.1 L618.2,588.9 M587.2,589.4 L592.3,590.3 L598.8,593.1 L600.6,595.4 L604.3,597.7 L605,601"/>
<path d="M605.7,592.1 L613.6,586.6 M610.8,595.4 L619.2,590.3 M619.2,589.8 Q623.5,592 624.7,595.4 M619.2,589.8 Q617.5,596 616.8,601.9 M624.7,595.4 Q625.5,601 624.7,606.9"/>
<path d="M636.8,594.8 L642.4,592.4 M638.9,586.3 L638.9,594"/>
<path d="M601.9,611.2 L619.7,602.7 M601.9,618.3 L620.4,609.8 L622.2,611 M601.9,611.2 L601.9,618.3"/>
<path d="M583.9,592.6 L592,597.5 L592,603 M592,597.5 L600.6,602 L600.6,608"/>
</g>
<!-- LEADERS -->
<g id="lead"><g font-family="Liberation Sans" font-weight="bold" font-size="15.5" fill="#231f20" stroke="none" text-anchor="middle">
<text x="102.2" y="120.3">10</text>
<text x="499.6" y="217.3">9</text>
<text x="40.9" y="333.9">7</text>
<text x="46.6" y="476.7">6</text>
<text x="44.9" y="530.8">14</text>
<text x="344.1" y="569.2">13</text>
<text x="419.0" y="551.1">11</text>
<text x="397.9" y="595.3">12</text>
<text x="13.8" y="801.6">8</text>
<text x="301.1" y="800.6">1</text>
<text x="336.9" y="891.0">2</text>
<text x="270.4" y="934.3">3</text>
<text x="524.6" y="806.2">4</text>
<text x="393.0" y="875.6">5</text>
</g>
<path d="M112.6,115.1 L149.4,115.1 M454.2,212.2 L491.3,212.2 M48.1,329 L84.7,329 M53.5,471.3 L90.9,471.3 M44.6,532.4 L44.6,550.7 M344.5,572.2 L344.5,605.3 M418.5,554.1 L418.5,572.2 M396.4,578.2 L396.4,561.1 L442.6,587.3 L442.6,652.6 M396.4,598.3 L396.4,616.4 M13.7,804.9 L13.7,835.2 M258.1,796 L294.9,796 M336.2,894 L336.2,922.6 M269.7,891.7 L269.7,918.9 M481,800.9 L516.8,800.9 M392.6,828.9 L392.6,860.5"/></g>
<g stroke="none" fill="#231f20" font-family="Liberation Sans">
<text x="0.6" y="24.2" font-size="30" font-weight="bold" textLength="136" lengthAdjust="spacingAndGlyphs" stroke="#231f20" stroke-width="0.9">FIG.326D</text>
<text x="3" y="995.9" font-size="13.1" stroke="#231f20" stroke-width="0.25" textLength="125.3" lengthAdjust="spacingAndGlyphs">DF60A_E03_018_326D</text>
<text x="1.6" y="1015.5" font-size="12.9" stroke="#231f20" stroke-width="0.25" textLength="192.5" lengthAdjust="spacingAndGlyphs">PTT SWITCH/ENGINE CONTROL UNIT</text>
</g>
</svg>
</body></html>
